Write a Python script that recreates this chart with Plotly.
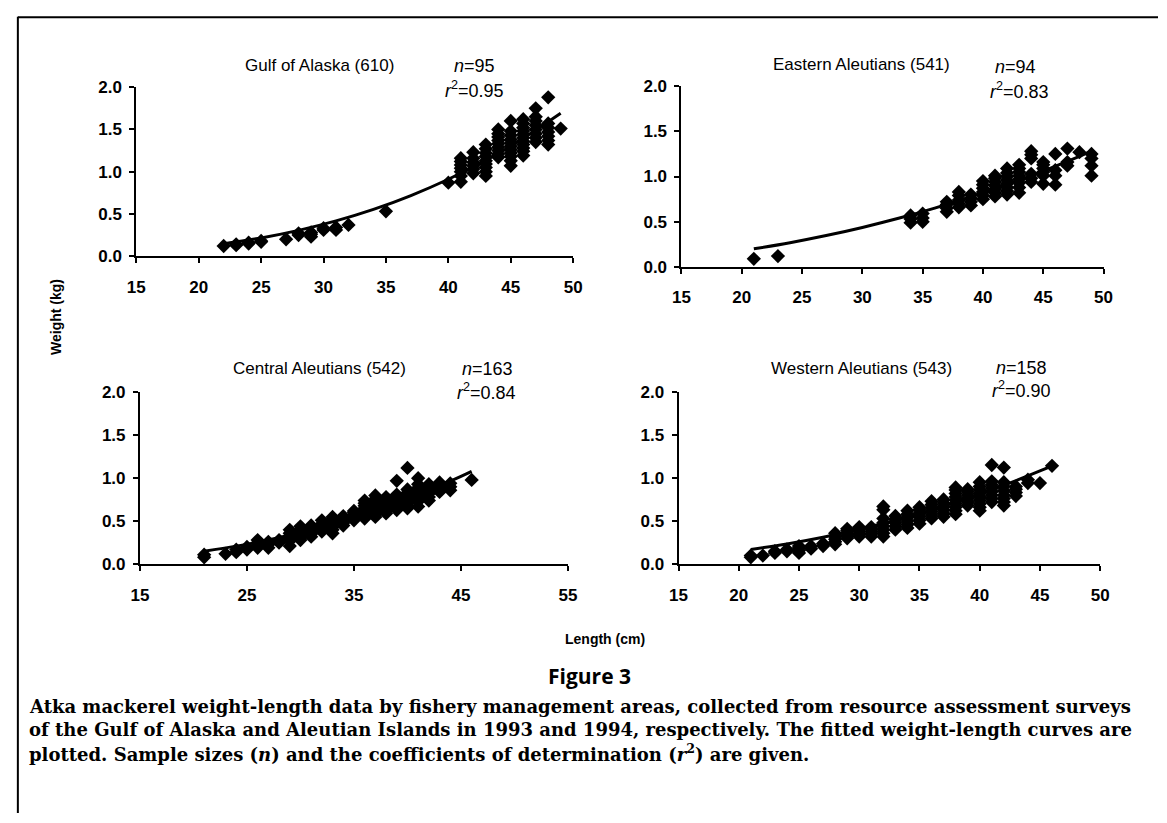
import plotly.graph_objects as go

W, H = 1167, 823

# ---------------- data (length cm -> list of weights kg) ----------------
gulf_pts = {
    22: [0.12], 23: [0.13, 0.14], 24: [0.15, 0.16], 25: [0.17, 0.18], 27: [0.20],
    28: [0.25, 0.27], 29: [0.23, 0.26, 0.28], 30: [0.31, 0.33], 31: [0.31, 0.34],
    32: [0.37], 35: [0.53], 40: [0.87],
    41: [0.88, 0.95, 1.00, 1.04, 1.08, 1.12, 1.16],
    42: [0.98, 1.03, 1.07, 1.11, 1.16, 1.23],
    43: [0.95, 1.00, 1.05, 1.09, 1.13, 1.18, 1.22, 1.27, 1.32],
    44: [1.17, 1.21, 1.25, 1.29, 1.33, 1.37, 1.41, 1.45, 1.50],
    45: [1.07, 1.13, 1.18, 1.22, 1.26, 1.30, 1.34, 1.38, 1.43, 1.48, 1.60],
    46: [1.19, 1.24, 1.28, 1.32, 1.36, 1.40, 1.44, 1.48, 1.52, 1.57, 1.62],
    47: [1.35, 1.40, 1.45, 1.50, 1.55, 1.60, 1.65, 1.75],
    48: [1.32, 1.37, 1.42, 1.47, 1.52, 1.57, 1.88],
    49: [1.51],
}
gulf_fit_len = [22, 25, 28, 31, 34, 37, 40, 43, 46, 49]
gulf_fit_wt = [0.146, 0.216, 0.305, 0.417, 0.553, 0.717, 0.910, 1.134, 1.395, 1.690]

east_pts = {
    21: [0.09], 23: [0.12],
    34: [0.49, 0.53, 0.57], 35: [0.50, 0.54, 0.59],
    37: [0.61, 0.65, 0.69, 0.72], 38: [0.66, 0.70, 0.74, 0.79, 0.83],
    39: [0.68, 0.72, 0.76, 0.80], 40: [0.75, 0.79, 0.83, 0.87, 0.91, 0.95],
    41: [0.78, 0.82, 0.86, 0.90, 0.94, 0.98, 1.01],
    42: [0.80, 0.84, 0.88, 0.92, 0.96, 1.00, 1.04, 1.09],
    43: [0.82, 0.88, 0.93, 0.97, 1.01, 1.05, 1.09, 1.13],
    44: [0.94, 0.98, 1.03, 1.20, 1.24, 1.28],
    45: [0.92, 1.01, 1.05, 1.09, 1.13, 1.16],
    46: [0.91, 1.01, 1.07, 1.25], 47: [1.12, 1.16, 1.31], 48: [1.27],
    49: [1.01, 1.12, 1.20, 1.25],
}
east_fit_len = [21, 24, 27, 30, 33, 36, 39, 42, 45, 48, 49]
east_fit_wt = [0.200, 0.268, 0.347, 0.437, 0.538, 0.651, 0.776, 0.913, 1.061, 1.223, 1.280]

central_pts = {
    21: [0.08, 0.11], 23: [0.12], 24: [0.14, 0.17], 25: [0.17, 0.20],
    26: [0.19, 0.22, 0.25, 0.28], 27: [0.19, 0.23, 0.26], 28: [0.25, 0.28],
    29: [0.21, 0.27, 0.30, 0.33, 0.36, 0.40],
    30: [0.28, 0.31, 0.34, 0.37, 0.40, 0.44],
    31: [0.32, 0.35, 0.38, 0.41, 0.45],
    32: [0.38, 0.41, 0.44, 0.47, 0.51],
    33: [0.36, 0.40, 0.43, 0.46, 0.49, 0.52, 0.55],
    34: [0.45, 0.48, 0.51, 0.54, 0.56],
    35: [0.51, 0.54, 0.57, 0.60, 0.62],
    36: [0.53, 0.56, 0.59, 0.62, 0.65, 0.68, 0.71, 0.74],
    37: [0.55, 0.58, 0.61, 0.64, 0.67, 0.70, 0.73, 0.76, 0.80],
    38: [0.59, 0.62, 0.65, 0.68, 0.71, 0.74, 0.78],
    39: [0.63, 0.66, 0.69, 0.72, 0.75, 0.78, 0.81, 0.97],
    40: [0.65, 0.68, 0.71, 0.74, 0.77, 0.80, 0.83, 0.87, 1.12],
    41: [0.67, 0.73, 0.77, 0.81, 0.85, 0.89, 0.93, 1.00],
    42: [0.74, 0.78, 0.82, 0.86, 0.90, 0.93],
    43: [0.84, 0.88, 0.92, 0.95], 44: [0.86, 0.90, 0.94], 46: [0.98],
}
central_fit_len = [21, 24, 27, 30, 33, 36, 39, 42, 45, 46]
central_fit_wt = [0.150, 0.210, 0.282, 0.368, 0.468, 0.583, 0.713, 0.859, 1.022, 1.080]

west_pts = {
    21: [0.08, 0.10], 22: [0.10], 23: [0.13, 0.15], 24: [0.15, 0.17],
    25: [0.13, 0.16, 0.19, 0.21], 26: [0.18, 0.21], 27: [0.21, 0.24],
    28: [0.23, 0.26, 0.29, 0.32, 0.36],
    29: [0.30, 0.33, 0.36, 0.39, 0.41],
    30: [0.32, 0.35, 0.38, 0.41, 0.43],
    31: [0.32, 0.35, 0.38, 0.41, 0.43],
    32: [0.32, 0.36, 0.40, 0.44, 0.48, 0.53, 0.63, 0.67],
    33: [0.40, 0.44, 0.48, 0.52, 0.56],
    34: [0.42, 0.46, 0.50, 0.54, 0.58, 0.62],
    35: [0.47, 0.51, 0.55, 0.59, 0.63, 0.66],
    36: [0.53, 0.57, 0.61, 0.65, 0.69, 0.73],
    37: [0.55, 0.59, 0.63, 0.67, 0.71, 0.75],
    38: [0.58, 0.62, 0.66, 0.70, 0.74, 0.78, 0.82, 0.86, 0.89],
    39: [0.68, 0.72, 0.76, 0.80, 0.84, 0.87],
    40: [0.62, 0.66, 0.70, 0.74, 0.78, 0.82, 0.86, 0.90, 0.95],
    41: [0.72, 0.76, 0.80, 0.84, 0.88, 0.92, 0.96, 1.15],
    42: [0.68, 0.72, 0.76, 0.80, 0.85, 0.90, 0.95, 1.12],
    43: [0.79, 0.83, 0.87, 0.90], 44: [0.94, 0.98], 45: [0.94], 46: [1.14],
}
west_fit_len = [21, 24, 27, 30, 33, 36, 39, 42, 45, 46]
west_fit_wt = [0.170, 0.235, 0.313, 0.404, 0.509, 0.629, 0.764, 0.914, 1.081, 1.140]

panel_titles = ["Gulf of Alaska (610)", "Eastern Aleutians (541)",
                "Central Aleutians (542)", "Western Aleutians (543)"]
panel_n = ["95", "94", "163", "158"]
panel_r2 = ["0.95", "0.83", "0.84", "0.90"]
x_ticks = [[15, 20, 25, 30, 35, 40, 45, 50], [15, 20, 25, 30, 35, 40, 45, 50],
           [15, 25, 35, 45, 55], [15, 20, 25, 30, 35, 40, 45, 50]]
x_ranges = [[15, 50], [15, 50], [15, 55], [15, 50]]
y_ticks = [0.0, 0.5, 1.0, 1.5, 2.0]
y_ticktext = ["0.0", "0.5", "1.0", "1.5", "2.0"]

caption_lines = [
    "Atka mackerel weight-length data by fishery management areas, collected from resource assessment surveys",
    "of the Gulf of Alaska and Aleutian Islands in 1993 and 1994, respectively. The fitted weight-length curves are",
    "plotted. Sample sizes (<i>n</i>) and the coefficients of determination (<i>r</i><sup>2</sup>) are given.",
]

# ---------------- layout geometry (pixels) ----------------
def px_x(p):
    return p / W

def px_y(p):
    return 1 - p / H

# (left, right, top, bottom) in pixels
boxes = [(129.3, 573.0, 80.0, 253.0), (683.0, 1111.7, 79.0, 264.0),
         (133.0, 567.7, 392.3, 568.3), (680.0, 1108.3, 391.7, 568.3)]
title_pos = [(315, 58), (866, 57), (315, 368), (866, 368)]
n_pos = [(473, 58), (1022, 59), (486, 368), (1028, 367)]
r_pos = [(473, 82), (1026, 83), (485, 392), (1028, 390)]

SANS = "Liberation Sans, Arial, sans-serif"

fig = go.Figure()
datasets = [(gulf_pts, gulf_fit_len, gulf_fit_wt), (east_pts, east_fit_len, east_fit_wt),
            (central_pts, central_fit_len, central_fit_wt), (west_pts, west_fit_len, west_fit_wt)]

for i, (pts, fl, fw) in enumerate(datasets):
    k = i + 1
    xs, ys = [], []
    for L, ws in pts.items():
        for w_ in ws:
            xs.append(L)
            ys.append(w_)
    xa = "x" if k == 1 else f"x{k}"
    ya = "y" if k == 1 else f"y{k}"
    fig.add_trace(go.Scatter(x=xs, y=ys, mode="markers", xaxis=xa, yaxis=ya,
                             marker=dict(symbol="diamond", size=11, color="black"),
                             cliponaxis=False, showlegend=False, hoverinfo="x+y"))
    fig.add_trace(go.Scatter(x=fl, y=fw, mode="lines", xaxis=xa, yaxis=ya,
                             line=dict(color="black", width=3, shape="spline"),
                             showlegend=False, hoverinfo="skip"))

layout = dict(width=W, height=H, margin=dict(l=0, r=0, t=0, b=0),
              paper_bgcolor="white", plot_bgcolor="rgba(0,0,0,0)", showlegend=False)

for i, (l, r, t, b) in enumerate(boxes):
    k = i + 1
    xd = [px_x(l), px_x(r)]
    yd = [px_y(b), px_y(t)]
    xkey = "xaxis" if k == 1 else f"xaxis{k}"
    ykey = "yaxis" if k == 1 else f"yaxis{k}"
    xa = "x" if k == 1 else f"x{k}"
    ya = "y" if k == 1 else f"y{k}"
    common = dict(showgrid=False, zeroline=False, showline=True, linecolor="black",
                  linewidth=2, ticks="outside", ticklen=5, tickwidth=1.5, tickcolor="black")
    layout[xkey] = dict(domain=xd, anchor=ya, range=x_ranges[i], tickmode="array",
                        tickvals=x_ticks[i], ticktext=[str(v) for v in x_ticks[i]],
                        tickfont=dict(family=SANS, size=17, color="black", weight="bold"),
                        ticklabelstandoff=9, **common)
    layout[ykey] = dict(domain=yd, anchor=xa, range=[0, 2.0], tickmode="array",
                        tickvals=y_ticks, ticktext=y_ticktext,
                        tickfont=dict(family=SANS, size=17, color="black", weight="bold"),
                        ticklabelstandoff=4, **common)
    # overlay axes giving the inside half of each crossing tick
    k2 = k + 4
    layout[f"xaxis{k2}"] = dict(domain=xd, anchor=ya, overlaying=xa, range=x_ranges[i],
                                tickmode="array", tickvals=x_ticks[i], ticks="inside",
                                ticklen=5, tickwidth=1.5, tickcolor="black",
                                showticklabels=False, showgrid=False, zeroline=False,
                                showline=False)
    layout[f"yaxis{k2}"] = dict(domain=yd, anchor=xa, overlaying=ya, range=[0, 2.0],
                                tickmode="array", tickvals=y_ticks, ticks="inside",
                                ticklen=5, tickwidth=1.5, tickcolor="black",
                                showticklabels=False, showgrid=False, zeroline=False,
                                showline=False)

annotations = []
for i in range(4):
    tx, ty = title_pos[i]
    annotations.append(dict(x=px_x(tx), y=px_y(ty), xref="paper", yref="paper",
                            text=panel_titles[i], showarrow=False, xanchor="center",
                            yanchor="middle", font=dict(family=SANS, size=17, color="black")))
    nx, ny = n_pos[i]
    annotations.append(dict(x=px_x(nx), y=px_y(ny), xref="paper", yref="paper",
                            text=f"<i>n</i>={panel_n[i]}", showarrow=False, xanchor="center",
                            yanchor="middle", font=dict(family=SANS, size=18, color="black")))
    rx, ry = r_pos[i]
    annotations.append(dict(x=px_x(rx), y=px_y(ry), xref="paper", yref="paper",
                            text=f"<i>r</i><sup>2</sup>={panel_r2[i]}", showarrow=False,
                            xanchor="center", yanchor="middle",
                            font=dict(family=SANS, size=18, color="black")))

annotations.append(dict(x=px_x(47), y=px_y(315), xref="paper", yref="paper",
                        text="Weight (kg)", showarrow=False, textangle=-90,
                        xanchor="center", yanchor="middle",
                        font=dict(family=SANS, size=14, color="black", weight="bold")))
annotations.append(dict(x=px_x(605), y=px_y(645), xref="paper", yref="paper",
                        text="Length (cm)", showarrow=False, xanchor="center", yanchor="middle",
                        font=dict(family=SANS, size=14, color="black", weight="bold")))
annotations.append(dict(x=px_x(590), y=px_y(683), xref="paper", yref="paper",
                        text="Figure 3", showarrow=False, xanchor="center", yanchor="middle",
                        font=dict(family="Open Sans, sans-serif", size=21, color="black",
                                  weight="bold")))
for j, line in enumerate(caption_lines):
    annotations.append(dict(x=px_x(18), y=px_y(714 + 24 * j), xref="paper", yref="paper",
                            text=line, showarrow=False, xanchor="left", yanchor="middle",
                            font=dict(family="DejaVu Serif, serif", size=18, color="black",
                                      weight="bold")))
layout["annotations"] = annotations

layout["shapes"] = [
    dict(type="line", xref="paper", yref="paper", x0=px_x(9), x1=1, y0=px_y(8.5), y1=px_y(8.5),
         line=dict(color="black", width=2)),
    dict(type="line", xref="paper", yref="paper", x0=px_x(9), x1=px_x(9), y0=px_y(8), y1=0,
         line=dict(color="black", width=2)),
]

fig.update_layout(**layout)
fig.write_html("out.html")
